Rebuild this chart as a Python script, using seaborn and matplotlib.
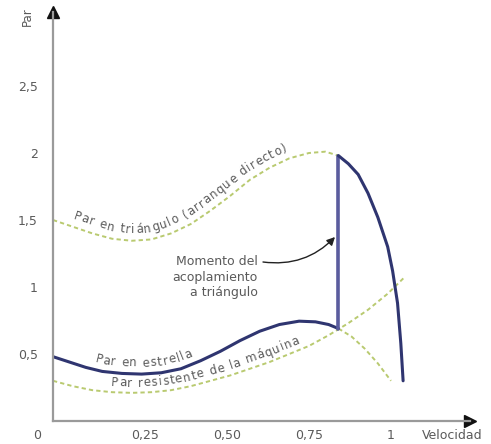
import numpy as np
import matplotlib
matplotlib.use("Agg")
import matplotlib.pyplot as plt
import seaborn as sns
from matplotlib.font_manager import FontProperties

# ---------------- data ----------------
tri_x = [-0.03, 0.03, 0.09, 0.15, 0.21, 0.27, 0.33, 0.39, 0.45, 0.51, 0.57, 0.63, 0.69, 0.75, 0.80, 0.84]
tri_y = [1.50, 1.45, 1.40, 1.36, 1.345, 1.355, 1.40, 1.47, 1.57, 1.68, 1.80, 1.89, 1.96, 2.00, 2.01, 1.98]

star_x = [-0.03, 0.02, 0.07, 0.12, 0.18, 0.24, 0.30, 0.36, 0.42, 0.48, 0.54, 0.60, 0.66, 0.72, 0.77, 0.81, 0.84]
star_y = [0.48, 0.44, 0.40, 0.37, 0.355, 0.35, 0.36, 0.39, 0.45, 0.52, 0.60, 0.67, 0.72, 0.745, 0.74, 0.72, 0.69]

star_tail_x = [0.84, 0.88, 0.92, 0.96, 1.00]
star_tail_y = [0.69, 0.63, 0.54, 0.43, 0.30]

load_x = [-0.03, 0.03, 0.09, 0.15, 0.21, 0.27, 0.33, 0.39, 0.45, 0.51, 0.57, 0.63, 0.69, 0.75, 0.81, 0.87, 0.93, 0.99, 1.04]
load_y = [0.30, 0.26, 0.23, 0.215, 0.21, 0.215, 0.23, 0.26, 0.30, 0.34, 0.39, 0.44, 0.50, 0.56, 0.64, 0.73, 0.83, 0.95, 1.07]

switch_x = [0.84, 0.84]
switch_y = [0.69, 1.98]

fall_x = [0.84, 0.87, 0.90, 0.93, 0.96, 0.99, 1.005, 1.02, 1.03, 1.037]
fall_y = [1.98, 1.92, 1.84, 1.70, 1.52, 1.30, 1.12, 0.88, 0.58, 0.30]

xticks = [0.25, 0.50, 0.75, 1.0]
xtick_labels = ["0,25", "0,50", "0,75", "1"]
yticks = [0.5, 1.0, 1.5, 2.0, 2.5]
ytick_labels = ["0,5", "1", "1,5", "2", "2,5"]

label_tri = "Par en triángulo (arranque directo)"
label_star = "Par en estrella"
label_load = "Par resistente de la máquina"
label_note = "Momento del\nacoplamiento\na triángulo"

# ---------------- style ----------------
sns.set_theme(style="white")
plt.rcParams['font.family'] = ['DejaVu Sans']

W, H = 491, 444
fig = plt.figure(figsize=(W / 100, H / 100), dpi=100)
ax_left, ax_right, ax_top, ax_bot = 53, 470, 12, 421
ax = fig.add_axes([ax_left / W, (H - ax_bot) / H, (ax_right - ax_left) / W, (ax_bot - ax_top) / H])
ax.set_xlim(-0.03, (ax_right - 63) / 328)
ax.set_ylim(0, (ax_bot - ax_top) / 134)

navy = "#2f3570"
vert = "#5a5c9e"
green = "#b9ca70"
grey_txt = "#5a5a5a"
dash = (0, (2.2, 1.6))
FS = 9

sns.lineplot(x=tri_x, y=tri_y, ax=ax, color=green, lw=1.4, linestyle=dash, sort=False, estimator=None)
sns.lineplot(x=load_x, y=load_y, ax=ax, color=green, lw=1.4, linestyle=dash, sort=False, estimator=None)
sns.lineplot(x=star_tail_x, y=star_tail_y, ax=ax, color=green, lw=1.4, linestyle=dash, sort=False, estimator=None)
sns.lineplot(x=star_x, y=star_y, ax=ax, color=navy, lw=2.2, sort=False, estimator=None)
sns.lineplot(x=switch_x, y=switch_y, ax=ax, color=vert, lw=2.6, sort=False, estimator=None)
sns.lineplot(x=fall_x, y=fall_y, ax=ax, color=navy, lw=2.2, sort=False, estimator=None)

# axes: only left & bottom, grey with arrow heads
for s in ["top", "right"]:
    ax.spines[s].set_visible(False)
for s in ["left", "bottom"]:
    ax.spines[s].set_color("#9a9a9a")
    ax.spines[s].set_linewidth(1.6)
ax.plot([0], [1.0], marker="^", ms=8, color="#111111", transform=ax.transAxes, clip_on=False)
ax.plot([1.0], [0], marker=">", ms=8, color="#111111", transform=ax.transAxes, clip_on=False)

ax.set_xticks(xticks)
ax.set_xticklabels(xtick_labels)
ax.set_yticks(yticks)
ax.set_yticklabels(ytick_labels)
ax.tick_params(axis="both", length=0, labelsize=FS, labelcolor=grey_txt)
ax.tick_params(axis="x", pad=6)
ax.tick_params(axis="y", pad=11)
ax.grid(False)

fig.text(37 / W, 1 - 435 / H, "0", fontsize=FS, color=grey_txt, ha="center", va="center")
fig.text(422 / W, 1 - 435 / H, "Velocidad", fontsize=FS, color=grey_txt, ha="left", va="center")
fig.text(27 / W, 1 - 17 / H, "Par", fontsize=FS - 0.5, color=grey_txt, ha="center", va="center", rotation=90)

# ---------------- text along a curve ----------------
fig.canvas.draw()
renderer = fig.canvas.get_renderer()


def text_along(xs, ys, text, start_px, offset_px, size=8.5, track=0.9, color=grey_txt):
    pts = ax.transData.transform(np.column_stack([xs, ys]))
    seg = np.diff(pts, axis=0)
    segn = seg / np.hypot(seg[:, 0], seg[:, 1])[:, None]
    nseg = np.column_stack([-segn[:, 1], segn[:, 0]])
    # vertex normals (averaged) -> offset polyline
    vn = np.vstack([nseg[:1], nseg[:-1] + nseg[1:], nseg[-1:]])
    vn = vn / np.hypot(vn[:, 0], vn[:, 1])[:, None]
    opts = pts + offset_px * vn
    oseg = np.diff(opts, axis=0)
    olen = np.hypot(oseg[:, 0], oseg[:, 1])
    cum = np.concatenate([[0], np.cumsum(olen)])
    s0 = np.interp(start_px, opts[:, 0], cum)
    fp = FontProperties(family="DejaVu Sans", size=size)
    bar = renderer.get_text_width_height_descent("|", fp, ismath=False)[0]

    def pref(k):
        if k == 0:
            return 0.0
        return renderer.get_text_width_height_descent(text[:k] + "|", fp, ismath=False)[0] - bar

    def at(s):
        j = int(np.clip(np.searchsorted(cum, s) - 1, 0, len(oseg) - 1))
        t = (s - cum[j]) / olen[j]
        return opts[j] + t * oseg[j]

    inv = ax.transData.inverted()
    for i, ch in enumerate(text):
        if ch == " ":
            continue
        sc = s0 + 0.5 * (pref(i) + pref(i + 1)) + track * (i + 0.5)
        p = at(sc)
        a, b = at(sc - 5), at(sc + 5)
        ang = np.degrees(np.arctan2(b[1] - a[1], b[0] - a[0]))
        dx, dy = inv.transform(p)
        ax.text(dx, dy, ch, fontproperties=fp, color=color, rotation=ang,
                rotation_mode="anchor", ha="center", va="center")


text_along(tri_x, tri_y, label_tri, 74, 11)
text_along(star_x, star_y, label_star, 95, 11)
text_along(load_x, load_y, label_load, 111, 9.5)

# ---------------- annotation ----------------
inv = ax.transData.inverted()
tx, ty = inv.transform((258, H - 255))
ax.text(tx, ty, label_note, fontsize=FS, color=grey_txt, ha="right", va="top", linespacing=1.25,
        transform=ax.transData)
p0 = inv.transform((263, H - 262))
p1 = inv.transform((335, H - 237))
ax.annotate("", xy=p1, xytext=p0,
            arrowprops=dict(arrowstyle="-|>", color="#222222", lw=1.0, mutation_scale=12,
                            connectionstyle="arc3,rad=0.25", shrinkA=0, shrinkB=0))

fig.savefig("out.png", dpi=100)
